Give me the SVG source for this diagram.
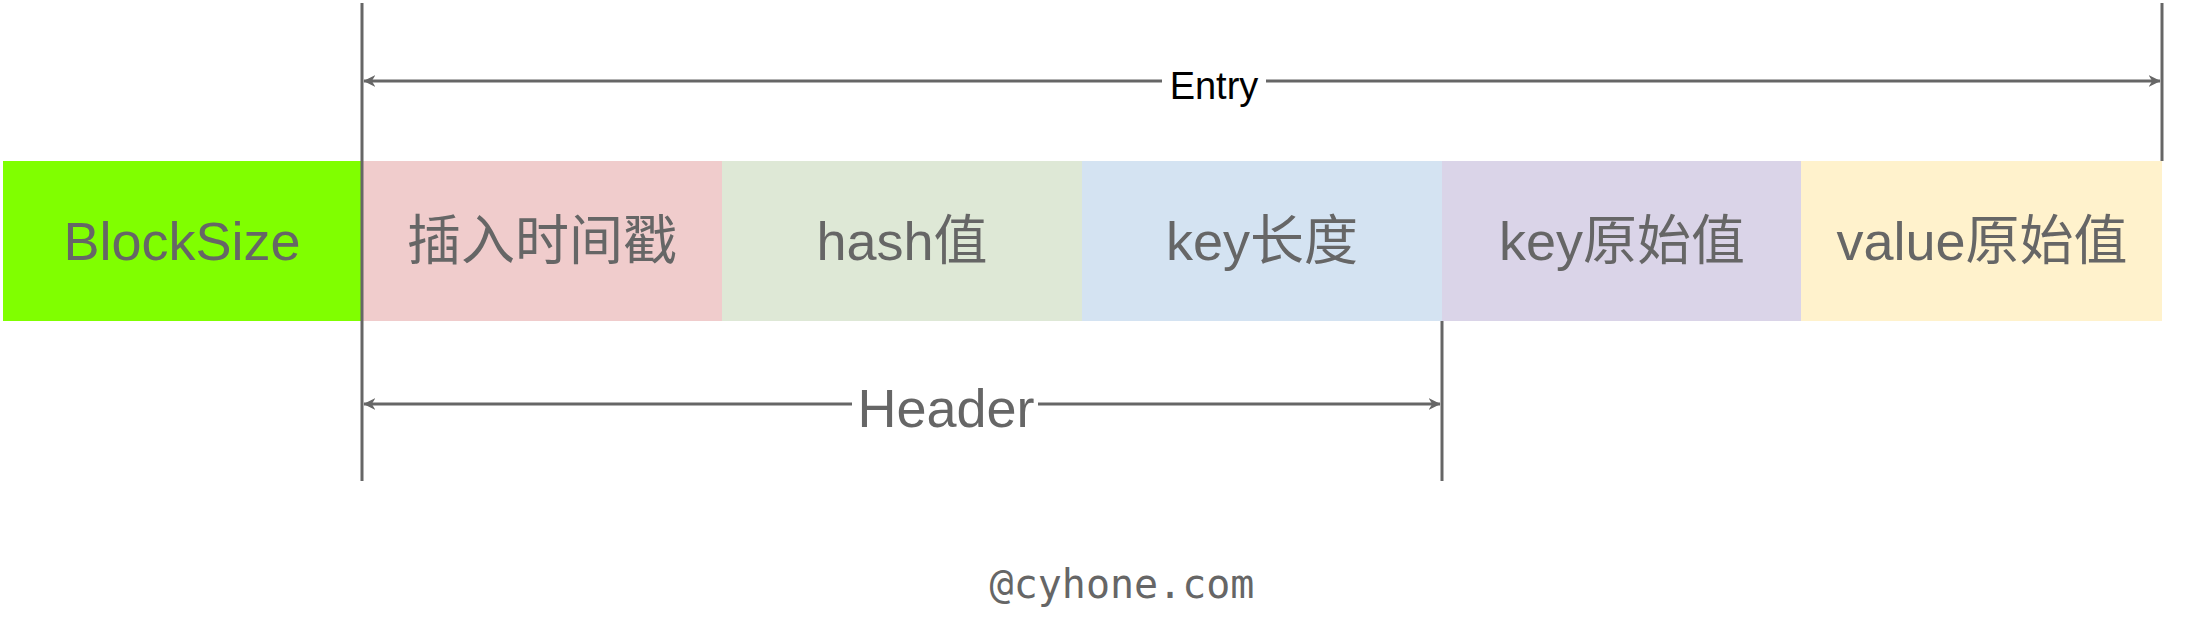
<svg xmlns="http://www.w3.org/2000/svg" width="2200" height="644" viewBox="0 0 2200 644">
<defs>
<style>
.lbl{font-family:"Liberation Sans","Noto Sans CJK SC",sans-serif;font-size:54px;fill:#666;text-anchor:middle;dominant-baseline:central}
.ln{stroke:#666;stroke-width:3;fill:none}
</style>
<marker id="ah" viewBox="0 0 20 20" refX="19" refY="10" markerWidth="12" markerHeight="12" markerUnits="userSpaceOnUse" orient="auto-start-reverse"><path d="M0,0 L20,10 L0,20 L6,10 Z" fill="#666"/></marker>
</defs>
<rect width="2200" height="644" fill="#fff"/>
<g id="blocksize"><rect x="3" y="161" width="359" height="160" fill="#80FF00"/><text class="lbl" x="182" y="241">BlockSize</text></g>
<g id="ts"><rect x="362" y="161" width="360" height="160" fill="#F0CCCC"/><text class="lbl" x="542" y="241">插入时间戳</text></g>
<g id="hash"><rect x="722" y="161" width="360" height="160" fill="#DEE8D6"/><text class="lbl" x="902" y="241">hash值</text></g>
<g id="keylen"><rect x="1082" y="161" width="360" height="160" fill="#D4E3F2"/><text class="lbl" x="1262" y="241">key长度</text></g>
<g id="key"><rect x="1442" y="161" width="359" height="160" fill="#DAD4E8"/><text class="lbl" x="1622" y="241">key原始值</text></g>
<g id="value"><rect x="1801" y="161" width="361" height="160" fill="#FFF2CC"/><text class="lbl" x="1982" y="241">value原始值</text></g>
<g id="connectors">
<line class="ln" x1="362" y1="3" x2="362" y2="481"/>
<line class="ln" x1="2162" y1="3" x2="2162" y2="161"/>
<line class="ln" x1="1442" y1="321" x2="1442" y2="481"/>
<line class="ln" x1="364" y1="81" x2="2160" y2="81" marker-start="url(#ah)" marker-end="url(#ah)"/>
<line class="ln" x1="364" y1="404" x2="1440" y2="404" marker-start="url(#ah)" marker-end="url(#ah)"/>
</g>
<g id="entry"><rect x="1162" y="62" width="104" height="40" fill="#fff"/><text x="1214" y="86" font-family="Liberation Sans,sans-serif" font-size="38" text-anchor="middle" dominant-baseline="central" fill="#000">Entry</text></g>
<g id="header"><rect x="852" y="380" width="186" height="50" fill="#fff"/><text class="lbl" x="946" y="408">Header</text></g>
<text x="1122" y="584" font-family="DejaVu Sans Mono,monospace" font-size="40" text-anchor="middle" dominant-baseline="central" fill="#666">@cyhone.com</text>
</svg>
